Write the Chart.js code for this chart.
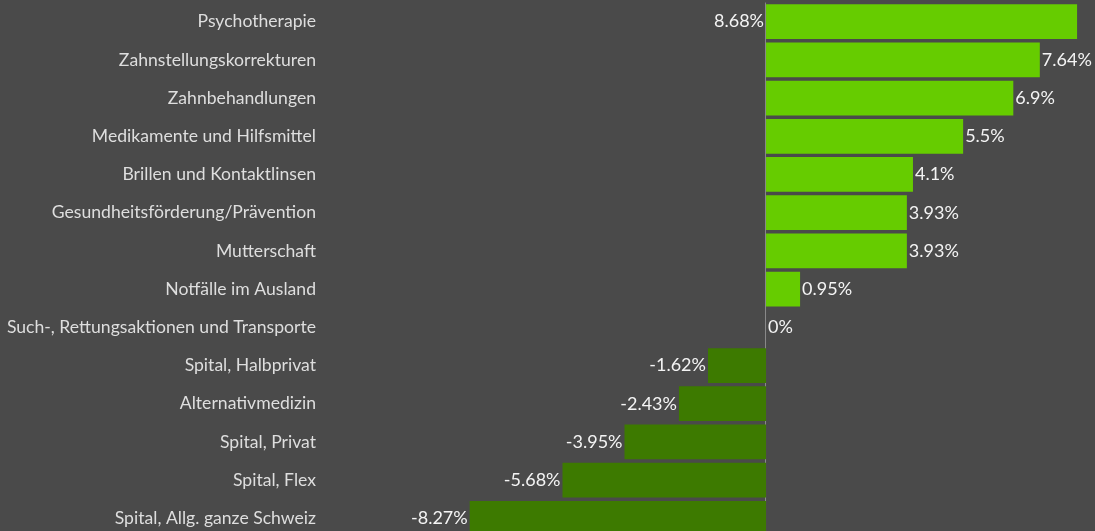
<!DOCTYPE html>
<html>
<head>
<meta charset="utf-8">
<script src="https://cdn.jsdelivr.net/npm/chart.js@4"></script>
<style>
  html, body { margin: 0; padding: 0; background: #4a4a4a; overflow: hidden; height: 531px; }
  #wrap { width: 1095px; height: 576px; margin-top: -18px; }
</style>
</head>
<body>
<div id="wrap"><canvas id="chart"></canvas></div>
<script>
const categories = [
  "Psychotherapie",
  "Zahnstellungskorrekturen",
  "Zahnbehandlungen",
  "Medikamente und Hilfsmittel",
  "Brillen und Kontaktlinsen",
  "Gesundheitsförderung/Prävention",
  "Mutterschaft",
  "Notfälle im Ausland",
  "Such-, Rettungsaktionen und Transporte",
  "Spital, Halbprivat",
  "Alternativmedizin",
  "Spital, Privat",
  "Spital, Flex",
  "Spital, Allg. ganze Schweiz"
];
const changes = [8.68, 7.64, 6.9, 5.5, 4.1, 3.93, 3.93, 0.95, 0, -1.62, -2.43, -3.95, -5.68, -8.27];

const fontFamily = "Lato, 'Noto Sans', sans-serif";

const valueLabels = {
  id: 'valueLabels',
  beforeDatasetsDraw(chart) {
    const ctx = chart.ctx;
    const x0 = chart.scales.x.getPixelForValue(0);
    ctx.save();
    ctx.strokeStyle = '#8c8c8c';
    ctx.lineWidth = 1;
    ctx.beginPath();
    ctx.moveTo(x0 - 0.5, chart.chartArea.top);
    ctx.lineTo(x0 - 0.5, chart.chartArea.bottom);
    ctx.stroke();
    ctx.restore();
  },
  afterDatasetsDraw(chart) {
    const ctx = chart.ctx;
    const meta = chart.getDatasetMeta(0);
    const right = chart.chartArea.right;
    ctx.save();
    ctx.font = "18px " + fontFamily;
    ctx.fillStyle = '#f4f4f4';
    ctx.textBaseline = 'middle';
    meta.data.forEach((bar, i) => {
      const v = changes[i];
      const text = v + '%';
      const w = ctx.measureText(text).width;
      if (v >= 0) {
        if (bar.x + 2 + w <= right) {
          ctx.textAlign = 'left';
          ctx.fillText(text, bar.x + 2, bar.y);
        } else {
          ctx.textAlign = 'right';
          ctx.fillText(text, bar.base - 2, bar.y);
        }
      } else {
        ctx.textAlign = 'right';
        ctx.fillText(text, bar.x - 2, bar.y);
      }
    });
    ctx.restore();
  }
};

new Chart(document.getElementById('chart'), {
  type: 'bar',
  data: {
    labels: categories,
    datasets: [{
      data: changes,
      backgroundColor: changes.map(v => v >= 0 ? '#66cc00' : '#3d7a00'),
      borderWidth: 0,
      barPercentage: 0.91,
      categoryPercentage: 1
    }]
  },
  options: {
    indexAxis: 'y',
    responsive: true,
    maintainAspectRatio: false,
    animation: false,
    layout: { padding: 0 },
    plugins: {
      legend: { display: false },
      tooltip: { enabled: false }
    },
    scales: {
      x: {
        display: false,
        min: -12.28,
        max: 9.18
      },
      y: {
        grid: { display: false, drawTicks: false },
        border: { display: false },
        ticks: {
          color: '#dedede',
          font: { family: fontFamily, size: 17.6 },
          padding: 10,
          autoSkip: false
        },
        afterFit(scale) { scale.width = 326; }
      }
    }
  },
  plugins: [valueLabels]
});
</script>
</body>
</html>
